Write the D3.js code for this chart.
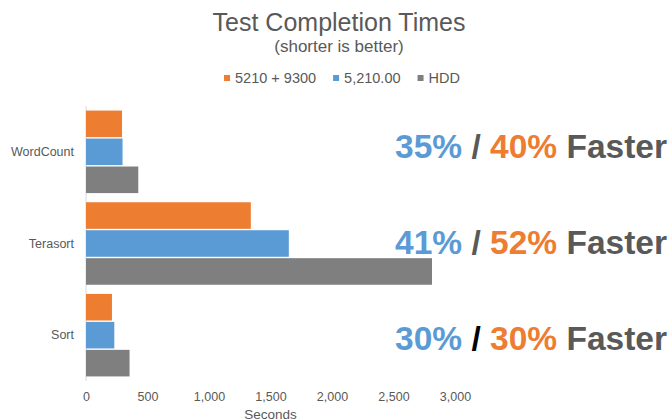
<!DOCTYPE html>
<html>
<head>
<meta charset="utf-8">
<script src="https://cdn.jsdelivr.net/npm/d3@7"></script>
<style>
  html, body { margin: 0; padding: 0; background: #fff; }
  svg { display: block; font-family: "Liberation Sans", Arial, sans-serif; }
</style>
</head>
<body>
<div id="vue"></div>
<script>
// données
var categories = ["WordCount", "Terasort", "Sort"];
var seriesNames = ["5210 + 9300", "5,210.00", "HDD"];
var serie5210_9300 = [293, 1340, 211];
var serie5210 = [297, 1649, 230];
var serieHDD = [425, 2813, 354];
var xTicks = [0, 500, 1000, 1500, 2000, 2500, 3000];
var gainBleu = ["35%", "41%", "30%"];
var gainOrange = ["40%", "52%", "30%"];

var colors = ["#ED7D31", "#5B9BD5", "#7F7F7F"];
var slashColors = ["#595959", "#595959", "#000000"];
var textColor = "#595959";

var width = 672, height = 420;
var svg = d3.select("#vue").append("svg")
  .attr("width", width)
  .attr("height", height);

// tableau construit à partir des séries
var series = [serie5210_9300, serie5210, serieHDD];
var table = categories.map(function (c, i) {
  return { cat: c, values: series.map(function (s, j) { return { name: seriesNames[j], v: s[i], k: j }; }) };
});

var x = d3.scaleLinear().domain([0, 3000]).range([86, 455]);
var y = d3.scaleBand().domain(categories).range([106, 381]).paddingInner(0.1).paddingOuter(0.05);
var yInner = d3.scaleBand().domain(d3.range(seriesNames.length)).range([0, y.bandwidth()]).paddingInner(0.05);

// Titre
svg.append("text")
  .attr("x", 339).attr("y", 31)
  .attr("text-anchor", "middle")
  .attr("font-size", 25)
  .attr("fill", textColor)
  .text("Test Completion Times");

svg.append("text")
  .attr("x", 339).attr("y", 52)
  .attr("text-anchor", "middle")
  .attr("font-size", 17)
  .attr("fill", textColor)
  .text("(shorter is better)");

// Légende
var legend = svg.append("g");
var lx = 0;
seriesNames.forEach(function (n, i) {
  var g = legend.append("g").attr("transform", "translate(" + lx + ",0)");
  g.append("rect").attr("x", 0).attr("y", 75).attr("width", 6).attr("height", 6).attr("fill", colors[i]);
  var t = g.append("text")
    .attr("x", 11).attr("y", 83)
    .attr("font-size", 14.5)
    .attr("fill", textColor)
    .text(n);
  lx += 11 + t.node().getComputedTextLength() + 17;
});
var lw = lx - 17;
legend.attr("transform", "translate(" + (342 - lw / 2) + ",0)");

// Axe vertical (ligne seule)
svg.append("line")
  .attr("x1", x(0)).attr("x2", x(0))
  .attr("y1", y.range()[0]).attr("y2", y.range()[1])
  .attr("stroke", "#D9D9D9")
  .attr("stroke-width", 1);

// Barres
var groups = svg.selectAll("g.cat")
  .data(table)
  .enter()
  .append("g")
  .attr("class", "cat")
  .attr("transform", function (d) { return "translate(0," + y(d.cat) + ")"; });

groups.selectAll("rect")
  .data(function (d) { return d.values; })
  .enter()
  .append("rect")
  .attr("x", x(0))
  .attr("y", function (d) { return yInner(d.k); })
  .attr("width", function (d) { return x(d.v) - x(0); })
  .attr("height", yInner.bandwidth())
  .attr("fill", function (d) { return colors[d.k]; });

// Libellés des catégories
var yAxis = svg.append("g")
  .attr("transform", "translate(" + (x(0) - 12) + ",0)")
  .call(d3.axisLeft(y).tickSize(0).tickPadding(0));
yAxis.select(".domain").remove();
yAxis.selectAll("text")
  .attr("font-family", "Liberation Sans, Arial, sans-serif")
  .attr("font-size", 12.5)
  .attr("fill", textColor);

// Axe des x
var xAxis = svg.append("g")
  .attr("transform", "translate(0," + y.range()[1] + ")")
  .call(d3.axisBottom(x).tickValues(xTicks).tickSize(0).tickPadding(11).tickFormat(d3.format(",")));
xAxis.select(".domain").remove();
xAxis.selectAll("text")
  .attr("font-family", "Liberation Sans, Arial, sans-serif")
  .attr("font-size", 12.5)
  .attr("fill", textColor);

svg.append("text")
  .attr("x", (x.range()[0] + x.range()[1]) / 2)
  .attr("y", 418.5)
  .attr("text-anchor", "middle")
  .attr("font-size", 13.5)
  .attr("fill", textColor)
  .text("Seconds");

// Annotations
var yAnno = d3.scalePoint().domain(categories).range([146.5, 338]);
var anno = svg.selectAll("text.anno")
  .data(categories)
  .enter()
  .append("text")
  .attr("class", "anno")
  .attr("x", 667)
  .attr("y", function (d) { return yAnno(d); })
  .attr("dy", "0.35em")
  .attr("text-anchor", "end")
  .attr("font-size", 33.5)
  .attr("font-weight", "bold");

anno.append("tspan").attr("fill", colors[1]).text(function (d, i) { return gainBleu[i]; });
anno.append("tspan").attr("fill", function (d, i) { return slashColors[i]; }).text(" / ");
anno.append("tspan").attr("fill", colors[0]).text(function (d, i) { return gainOrange[i]; });
anno.append("tspan").attr("fill", textColor).text(" Faster");
</script>
</body>
</html>
